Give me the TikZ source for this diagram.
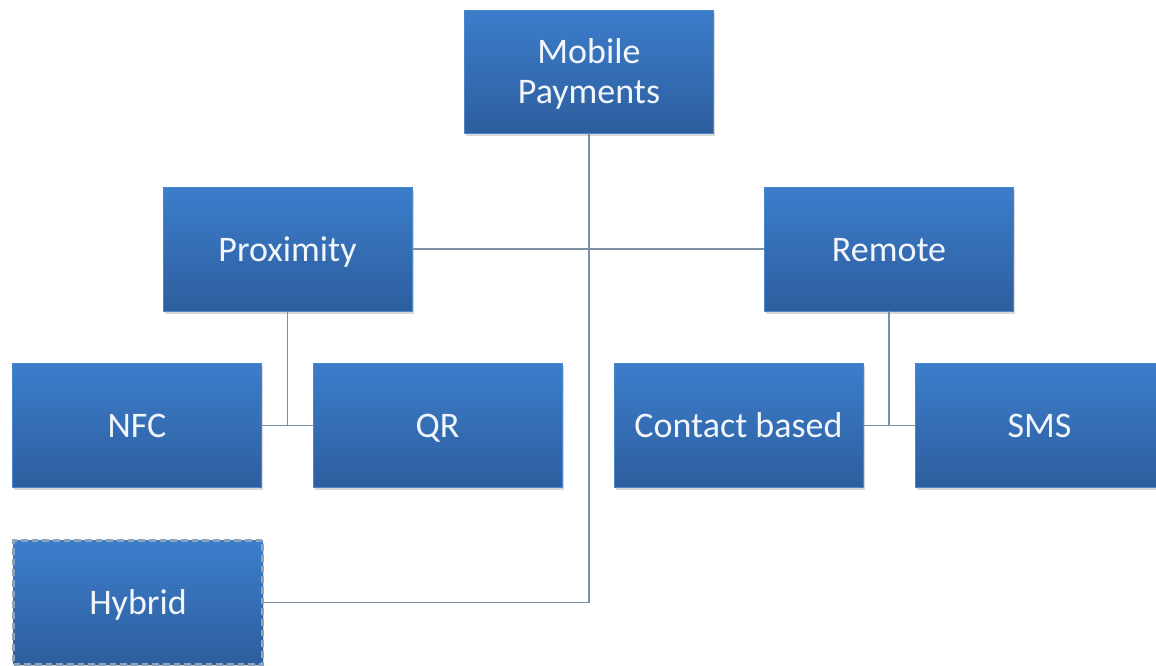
\documentclass[tikz,border=0pt]{standalone}
\usepackage{fontspec}
\setmainfont{Carlito}
\usetikzlibrary{shadows}
\definecolor{boxtop}{HTML}{3C7DCB}
\definecolor{boxbot}{HTML}{2D5E9E}
\definecolor{boxedge}{HTML}{4A86CC}
\definecolor{linkgrey}{HTML}{7D8FA3}
\definecolor{dashgrey}{HTML}{8FA3BA}
\definecolor{labelwhite}{HTML}{F2F6FB}
\tikzset{
  unitbox/.style={rectangle, minimum width=186.75pt, minimum height=93pt,
    inner sep=0pt, top color=boxtop, bottom color=boxbot, draw=boxedge,
    line width=0.4pt, text=labelwhite, align=center,
    font=\fontsize{27}{30}\selectfont,
    drop shadow={opacity=0.3, shadow xshift=1.2pt, shadow yshift=-2.2pt}},
  onerow/.style={unitbox, text height=23pt, text depth=5pt},
  optbox/.style={onerow, draw=dashgrey, line width=1.6pt, dash pattern=on 5pt off 3pt},
  link/.style={draw=linkgrey, line width=1.3pt}
}
\begin{document}
\begin{tikzpicture}[x=0.75pt, y=-0.75pt]
  \useasboundingbox (0,0) rectangle (1156,665);
  \clip (0,0) rectangle (1156,665);
  \fill[white] (0,0) rectangle (1156,665);

  % boxes
  \node[unitbox, minimum height=92.25pt] (mob) at (589,71.5)
    {\raisebox{-3pt}[\height][\depth]{\begin{tabular}{@{}c@{}}Mobile\\Payments\end{tabular}}};
  \node[onerow] (prox) at (287.5,249) {Proximity};
  \node[onerow] (rem)  at (889,249)   {Remote};
  \node[onerow] (nfc)  at (137,425.5) {NFC};
  \node[onerow] (qr)   at (437.5,425.5) {QR};
  \node[onerow] (cb)   at (738.5,425.5) {Contact based};
  \node[onerow] (sms)  at (1039.5,425.5) {SMS};
  \node[optbox] (hyb)  at (138,602.5) {Hybrid};

  % connectors
  \draw[link] (mob.south) |- (hyb.east);
  \draw[link] (prox.east) -- (rem.west);
  \coordinate (pj) at (prox.south |- nfc.east);
  \coordinate (rj) at (rem.south |- cb.east);
  \draw[link] (prox.south) -- (pj);
  \draw[link] (nfc.east) -- (qr.west);
  \draw[link] (rem.south) -- (rj);
  \draw[link] (cb.east) -- (sms.west);
\end{tikzpicture}
\end{document}
